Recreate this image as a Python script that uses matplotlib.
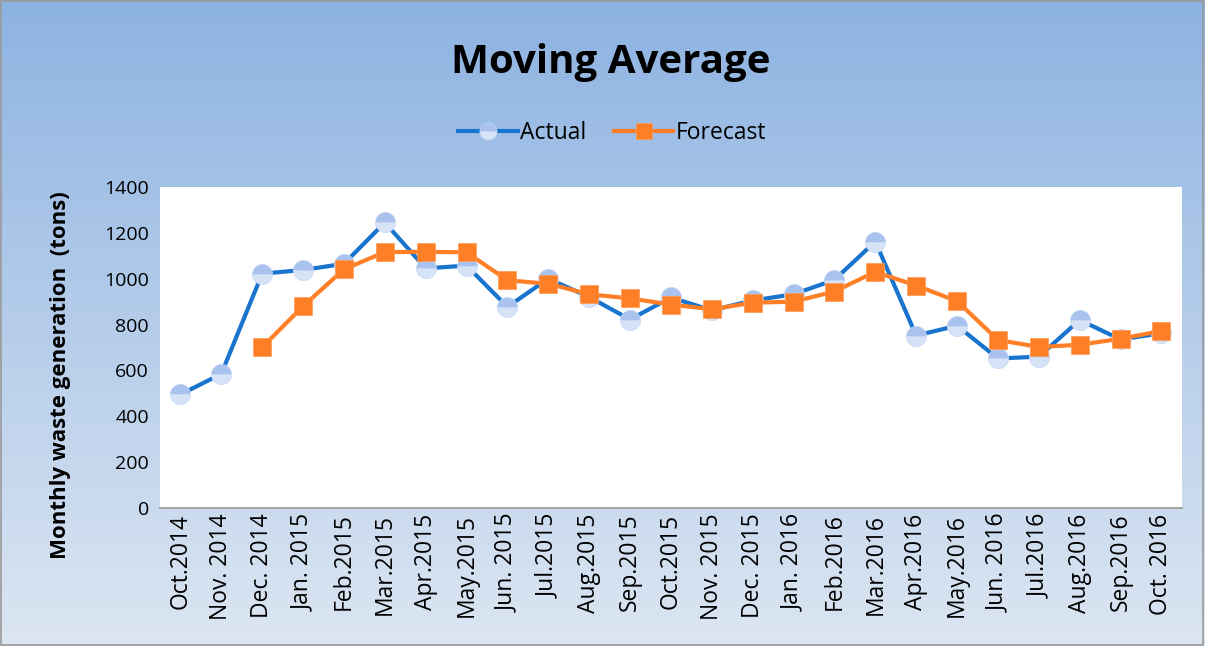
import numpy as np
import matplotlib
matplotlib.use("Agg")
import matplotlib.pyplot as plt
from matplotlib.colors import LinearSegmentedColormap
from matplotlib.patches import Rectangle

months = ["Oct.2014", "Nov. 2014", "Dec. 2014", "Jan. 2015", "Feb.2015", "Mar.2015",
          "Apr.2015", "May.2015", "Jun. 2015", "Jul.2015", "Aug.2015", "Sep.2015",
          "Oct.2015", "Nov. 2015", "Dec. 2015", "Jan. 2016", "Feb.2016", "Mar.2016",
          "Apr.2016", "May.2016", "Jun. 2016", "Jul.2016", "Aug.2016", "Sep.2016",
          "Oct. 2016"]

actual = [495, 585, 1022, 1038, 1065, 1245, 1045, 1057, 877, 1000, 920, 822,
          918, 862, 905, 932, 995, 1162, 752, 795, 652, 660, 820, 735, 762]

forecast = [np.nan, np.nan, 701, 880, 1041, 1116, 1117, 1115, 993, 978, 932, 914,
            887, 867, 895, 900, 944, 1030, 970, 902, 733, 702, 712, 738, 772]

yticks = [0, 200, 400, 600, 800, 1000, 1200, 1400]

plt.rcParams['font.family'] = ['Open Sans', 'DejaVu Sans']

fig = plt.figure(figsize=(12.05, 6.46), dpi=100)

# background gradient
bg = fig.add_axes([0, 0, 1, 1], zorder=-10)
grad = np.linspace(0, 1, 256).reshape(-1, 1)
cmap = LinearSegmentedColormap.from_list("bg", ["#8DB3E2", "#DCE6F2"])
bg.imshow(grad, aspect='auto', cmap=cmap, extent=[0, 1, 0, 1], origin='upper')
bg.set_axis_off()
fig.patches.append(Rectangle((0.001, 0.001), 0.997, 0.997, transform=fig.transFigure,
                             fill=False, edgecolor='#9A9A9A', linewidth=1.2))

ax = fig.add_axes([0.1328, 0.2136, 0.848, 0.497])
ax.set_facecolor('white')
x = np.arange(len(months))

ax.plot(x, actual, color='#1874CD', linewidth=3, marker='o', markersize=14.5,
        fillstyle='top', markerfacecolor='#A9C2EE', markerfacecoloralt='#D6E2F6',
        markeredgecolor='#C5D6F3', markeredgewidth=0.5, label='Actual', zorder=3)
ax.plot(x, forecast, color='#FF7F27', linewidth=3, marker='s', markersize=13.5,
        markerfacecolor='#FF7F27', markeredgecolor='#FF9A55', markeredgewidth=0.5,
        label='Forecast', zorder=4)

ax.set_xlim(-0.5, len(months) - 0.5)
ax.set_ylim(0, 1400)
ax.set_yticks(yticks)
ax.set_yticklabels([str(v) for v in yticks], fontsize=14)
ax.set_xticks(x)
ax.set_xticklabels(months, rotation=90, fontsize=16.5)
ax.tick_params(axis='y', length=0, pad=8)
ax.tick_params(axis='x', length=0, pad=4)
for s in ['top', 'right', 'left']:
    ax.spines[s].set_visible(False)
ax.spines['bottom'].set_color('#A6A6A6')
ax.spines['bottom'].set_linewidth(1.5)

fig.text(0.05, 0.42, 'Monthly waste generation  (tons)', rotation=90, fontsize=16,
         fontweight='bold', ha='center', va='center')
fig.text(0.507, 0.903, 'Moving Average', fontsize=29, fontweight='bold',
         ha='center', va='center')

leg = fig.legend(loc='center', bbox_to_anchor=(0.508, 0.794), ncol=2, frameon=False,
                 fontsize=16.5, handlelength=2.6, columnspacing=1.2, handletextpad=0.1,
                 markerscale=0.85)

fig.savefig('out.png', dpi=100)
